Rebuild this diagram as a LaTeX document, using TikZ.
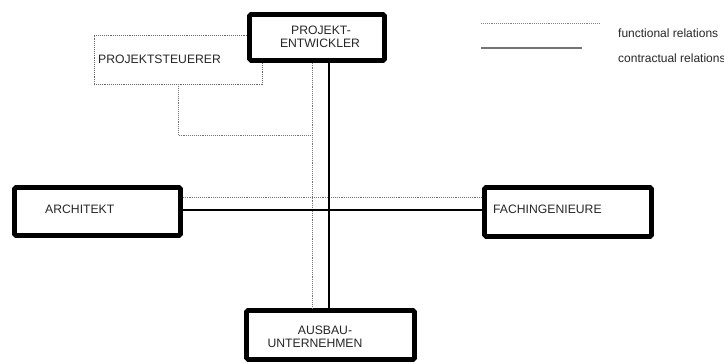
\documentclass[tikz,border=0pt]{standalone}
\usepackage{fontspec}
\setmainfont{Liberation Sans}
\begin{document}
\begin{tikzpicture}[x=1pt,y=-1pt,
  party/.style={draw=black,line width=4.6pt,fill=white,rounded corners=1.5pt,
    rectangle,inner sep=0pt},
  helper/.style={draw=black!60,line width=0.9pt,densely dotted,fill=white,
    rectangle,inner sep=0pt},
  func/.style={draw=black!55,line width=0.9pt,densely dotted},
  contr/.style={draw=black,line width=1.8pt},
  lbl/.style={font=\fontsize{12.2}{13}\selectfont,inner sep=0pt,text=black!85},
  leg/.style={font=\fontsize{12}{13}\selectfont,inner sep=0pt,text=black!85,anchor=west},
]
\useasboundingbox (0,0) rectangle (724,363);

% boxes of the parties
\node[helper,minimum width=168pt,minimum height=49pt] (st) at (178,59.5) {};
\node[party,minimum width=135pt,minimum height=46pt] (pe) at (317,37.5) {};
\node[party,minimum width=166pt,minimum height=48pt] (ar) at (97.5,211.5) {};
\node[party,minimum width=167pt,minimum height=49pt] (fa) at (568,212) {};
\node[party,minimum width=168pt,minimum height=49pt] (au) at (330.5,335) {};

% box texts
\node[lbl] (pe1) at (321,30) {PROJEKT-};
\node[lbl] (pe2) at (320,43) {ENTWICKLER};
\node[lbl,anchor=west] (st1) at (98,59) {PROJEKTSTEUERER};
\node[lbl,anchor=west] (ar1) at (45,209) {ARCHITEKT};
\node[lbl,anchor=west] (fa1) at (493,209) {FACHINGENIEURE};
\node[lbl] (au1) at (325,330) {AUSBAU-};
\node[lbl] (au2) at (315,343) {UNTERNEHMEN};

% guide positions of the relation lines
\coordinate (sx) at (329,0);
\coordinate (dx) at (312.5,0);
\coordinate (sy) at (0,210);
\coordinate (dy) at (0,197);
\coordinate (bend) at (312.5,135);

% functional relations
\draw[func] (st.south) |- (bend);
\draw[func] (pe.south -| dx) -- (au.north -| dx);
\draw[func] (ar.east |- dy) -- (fa.west |- dy);

% contractual relations
\draw[contr] (pe.south -| sx) -- (au.north -| sx);
\draw[contr] (ar.east |- sy) -- (fa.west |- sy);

% legend
\coordinate (lf1) at (481,23);
\coordinate (lf2) at (599,23);
\coordinate (lc1) at (481,48);
\coordinate (lc2) at (582,48);
\draw[func,draw=black!50] (lf1) -- (lf2);
\draw[draw=black!55,line width=1.4pt] (lc1) -- (lc2);
\node[leg] (lgf) at (618,33) {functional relations};
\node[leg] (lgc) at (618,58) {contractual relations};
\end{tikzpicture}
\end{document}
